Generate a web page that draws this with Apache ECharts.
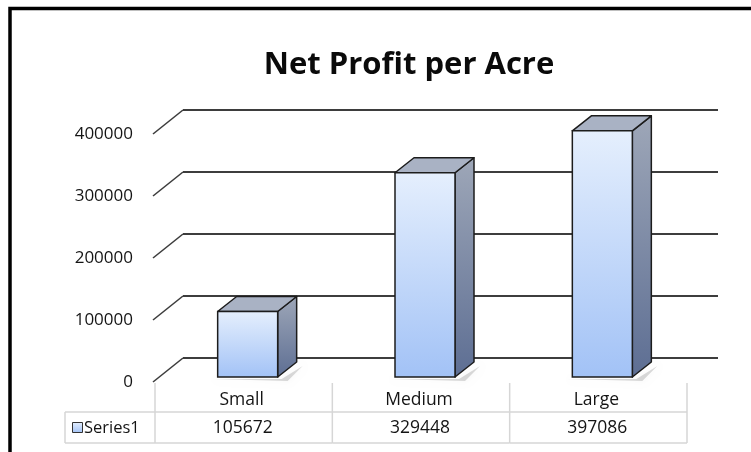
<!DOCTYPE html>
<html>
<head>
<meta charset="utf-8">
<script src="https://cdn.jsdelivr.net/npm/echarts@6/dist/echarts.min.js"></script>
<style>
html,body{margin:0;padding:0;background:#fff;}
#chart{width:751px;height:452px;}
</style>
</head>
<body>
<div id="chart"></div>
<script>
// ---- data ----
const chartTitle = 'Net Profit per Acre';
const categories = ['Small', 'Medium', 'Large'];
const values = [105672, 329448, 397086];
const seriesName = 'Series1';
const yTicks = [0, 100000, 200000, 300000, 400000];

// ---- style constants ----
const FONT = '"Open Sans", Lato, sans-serif';
const DEPTH_X = 19, DEPTH_Y = -15;       // bar depth projection
const WALL_X = 30, WALL_Y = -24;         // front edge -> back wall projection
const BAR_W = 60, BAR_SHIFT = 4;
const TABLE_LINE = '#d6d6d6';
const TEXT = '#141414';

const chart = echarts.init(document.getElementById('chart'), null, {renderer: 'canvas'});

const option = {
  backgroundColor: '#ffffff',
  animation: false,
  title: {
    text: chartTitle,
    left: 404,
    top: 45,
    textAlign: 'center',
    textStyle: {fontFamily: FONT, fontWeight: 'bold', fontSize: 31, color: '#0a0a0a'}
  },
  grid: [
    {left: 155, top: 129, width: 532, height: 248},  // front plane of bars
    {left: 183, top: 110, width: 535, height: 248},  // back wall
    {left: 153, top: 134, width: 532, height: 248}   // front edge (labels)
  ],
  xAxis: [
    {gridIndex: 0, type: 'category', data: categories, show: false},
    {gridIndex: 1, type: 'category', data: categories, show: false},
    {gridIndex: 2, type: 'value', min: 0, max: 1, show: false}
  ],
  yAxis: [
    {gridIndex: 0, type: 'value', min: 0, max: 400000, interval: 100000, show: false},
    {gridIndex: 1, type: 'value', min: 0, max: 400000, interval: 100000,
      axisLine: {show: false}, axisTick: {show: false}, axisLabel: {show: false},
      splitLine: {show: true, lineStyle: {color: '#3d3d3d', width: 2}}},
    {gridIndex: 2, type: 'value', min: 0, max: 400000, interval: 100000,
      axisLine: {show: false}, axisTick: {show: false}, splitLine: {show: false},
      axisLabel: {margin: 20, fontFamily: FONT, fontSize: 17, color: TEXT,
        formatter: function (v) { return String(v); }}}
  ],
  series: [
    {
      // side wall diagonals
      type: 'custom',
      xAxisIndex: 2, yAxisIndex: 2,
      data: yTicks.map(v => [0, v]),
      z: 2,
      renderItem: function (params, api) {
        const p = api.coord([0, api.value(1)]);
        return {
          type: 'line',
          shape: {x1: p[0], y1: p[1], x2: p[0] + WALL_X, y2: p[1] + WALL_Y},
          style: {stroke: '#3d3d3d', lineWidth: 1.6}
        };
      }
    },
    {
      // 3D bars
      name: seriesName,
      type: 'custom',
      xAxisIndex: 0, yAxisIndex: 0,
      data: values.map((v, i) => [i, v]),
      z: 5,
      renderItem: function (params, api) {
        const i = api.value(0);
        const top = api.coord([i, api.value(1)]);
        const base = api.coord([i, 0]);
        const cx = top[0] + BAR_SHIFT;
        const x0 = cx - BAR_W / 2, x1 = cx + BAR_W / 2;
        const yT = top[1], yB = base[1];
        const edge = '#1c1c1c';
        return {
          type: 'group',
          children: [
            {
              type: 'polygon',
              shape: {points: [[x0 - 5, yB + 2], [x1 + 4, yB + 2], [x1 + DEPTH_X + 6, yB + DEPTH_Y + 4], [x1 + 10, yB + 4]]},
              style: {fill: 'rgba(0,0,0,0.14)', shadowBlur: 6, shadowColor: 'rgba(0,0,0,0.3)'}
            },
            {
              type: 'polygon',
              shape: {points: [[x1, yT], [x1 + DEPTH_X, yT + DEPTH_Y], [x1 + DEPTH_X, yB + DEPTH_Y], [x1, yB]]},
              style: {
                fill: new echarts.graphic.LinearGradient(0, 0, 0, 1, [
                  {offset: 0, color: '#9ea7b8'}, {offset: 1, color: '#5d6e93'}]),
                stroke: edge, lineWidth: 1.5, lineJoin: 'round'
              }
            },
            {
              type: 'polygon',
              shape: {points: [[x0, yT], [x0 + DEPTH_X, yT + DEPTH_Y], [x1 + DEPTH_X, yT + DEPTH_Y], [x1, yT]]},
              style: {fill: '#a9b2c4', stroke: edge, lineWidth: 1.5, lineJoin: 'round'}
            },
            {
              type: 'rect',
              shape: {x: x0, y: yT, width: BAR_W, height: yB - yT},
              style: {
                fill: new echarts.graphic.LinearGradient(0, 0, 0, 1, [
                  {offset: 0, color: '#e5effd'}, {offset: 1, color: '#a2c2f6'}]),
                stroke: edge, lineWidth: 1.5
              }
            }
          ]
        };
      }
    },
    {
      // data table under the plot
      type: 'custom',
      xAxisIndex: 0, yAxisIndex: 0,
      data: values.map((v, i) => [i, v]),
      z: 3,
      renderItem: function (params, api) {
        const i = api.value(0);
        const c = api.coord([i, 0]);
        const w = api.size([1, 0])[0];
        const xl = c[0] - w / 2, xr = c[0] + w / 2;
        const y0 = c[1];
        const lineStyle = {stroke: TABLE_LINE, lineWidth: 1.5};
        const children = [
          {type: 'line', shape: {x1: xr, y1: y0 + 6, x2: xr, y2: y0 + 66}, style: lineStyle},
          {type: 'line', shape: {x1: xl, y1: y0 + 35, x2: xr, y2: y0 + 35}, style: lineStyle},
          {type: 'line', shape: {x1: xl, y1: y0 + 66, x2: xr, y2: y0 + 66}, style: lineStyle},
          {type: 'text', style: {x: c[0] - 2, y: y0 + 23, text: categories[i], textAlign: 'center', textVerticalAlign: 'middle',
            font: '17.5px ' + FONT, fill: TEXT}},
          {type: 'text', style: {x: c[0] - 1, y: y0 + 51, text: String(api.value(1)), textAlign: 'center', textVerticalAlign: 'middle',
            font: '17.5px ' + FONT, fill: TEXT}}
        ];
        if (i === 0) {
          children.push({type: 'line', shape: {x1: xl, y1: y0 + 6, x2: xl, y2: y0 + 66}, style: lineStyle});
        }
        return {type: 'group', children: children};
      }
    }
  ],
  graphic: [
    // outer frame
    {type: 'rect', shape: {x: 10, y: 8.5, width: 900, height: 600}, style: {fill: null, stroke: '#000', lineWidth: 3.5}, z: 10},
    // series label cell
    {type: 'line', shape: {x1: 65, y1: 412, x2: 155, y2: 412}, style: {stroke: TABLE_LINE, lineWidth: 1.5}},
    {type: 'line', shape: {x1: 65, y1: 443, x2: 155, y2: 443}, style: {stroke: TABLE_LINE, lineWidth: 1.5}},
    {type: 'line', shape: {x1: 65, y1: 412, x2: 65, y2: 443}, style: {stroke: TABLE_LINE, lineWidth: 1.5}},
    {type: 'rect', shape: {x: 72.5, y: 422.5, width: 10, height: 10},
      style: {fill: new echarts.graphic.LinearGradient(0, 0, 0, 1, [{offset: 0, color: '#e5effd'}, {offset: 1, color: '#a2c2f6'}]), stroke: '#333', lineWidth: 1}},
    {type: 'text', style: {x: 84, y: 428, text: seriesName, textVerticalAlign: 'middle', font: '16.5px ' + FONT, fill: TEXT}}
  ]
};

chart.setOption(option);
</script>
</body>
</html>
